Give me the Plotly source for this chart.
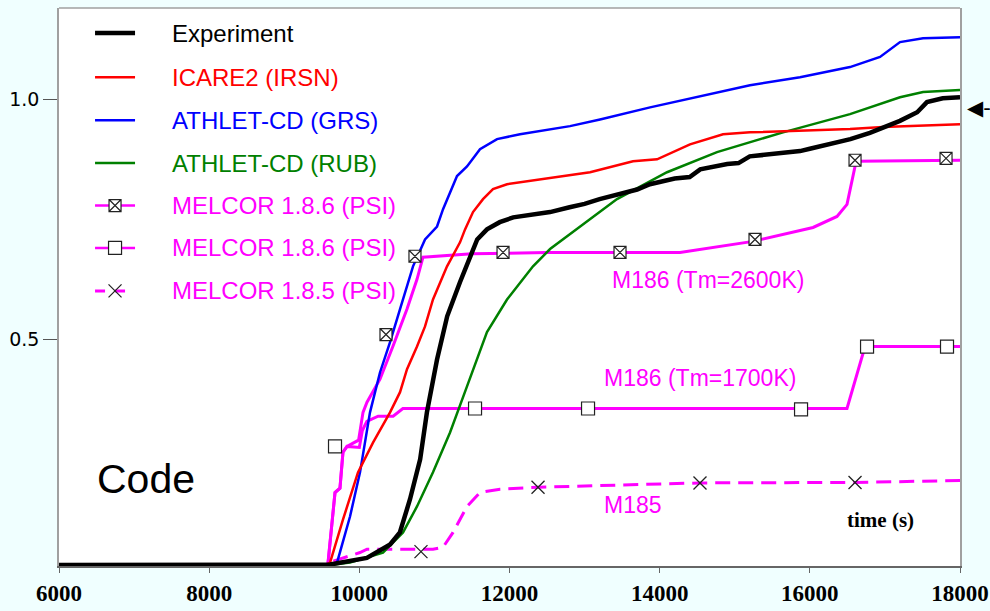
import plotly.graph_objects as go

# ---------------- data ----------------
exp_t = [6000, 9500, 9610, 10100, 10410, 10540, 10675, 10810, 10900, 11035, 11170, 11340, 11570, 11700,
         11870, 12050, 12310, 12540, 12800, 13000, 13200, 13500, 13700, 13870, 14200, 14400, 14540, 14900,
         15050, 15200, 15500, 15870, 16000, 16200, 16540, 16800, 16980, 17200, 17430, 17560, 17770, 18000]
exp_v = [0.03, 0.03, 0.031, 0.045, 0.073, 0.098, 0.167, 0.25, 0.348, 0.458, 0.548, 0.619, 0.708, 0.729,
         0.744, 0.754, 0.760, 0.765, 0.775, 0.782, 0.792, 0.805, 0.812, 0.823, 0.835, 0.838, 0.854, 0.865,
         0.867, 0.881, 0.885, 0.892, 0.897, 0.905, 0.917, 0.930, 0.942, 0.955, 0.973, 0.994, 1.002, 1.004]

icare_t = [6000, 9550, 9610, 9783, 9982, 10182, 10409, 10542, 10635, 10768, 10875, 10981, 11168, 11341,
           11408, 11514, 11647, 11780, 11967, 12400, 12806, 13073, 13645, 13965, 14404, 14844, 15203,
           16535, 16975, 18000]
icare_v = [0.03, 0.03, 0.035, 0.125, 0.223, 0.285, 0.348, 0.39, 0.438, 0.485, 0.527, 0.583, 0.652, 0.702,
           0.729, 0.765, 0.792, 0.813, 0.823, 0.833, 0.842, 0.848, 0.871, 0.875, 0.906, 0.927, 0.931,
           0.938, 0.942, 0.948]

grs_t = [6000, 9600, 9703, 9876, 10009, 10142, 10275, 10409, 10542, 10715, 10875, 11035, 11115, 11301,
         11434, 11607, 11834, 12140, 12806, 13206, 13872, 14537, 15203, 15869, 16535, 16935, 17201, 17508, 18000]
grs_v = [0.03, 0.03, 0.035, 0.131, 0.223, 0.348, 0.431, 0.494, 0.563, 0.652, 0.708, 0.735, 0.771, 0.840,
         0.860, 0.896, 0.917, 0.927, 0.944, 0.958, 0.983, 1.006, 1.029, 1.046, 1.067, 1.088, 1.119, 1.127, 1.129]

rub_t = [6000, 9600, 9876, 10315, 10582, 10768, 10981, 11208, 11434, 11700, 11967, 12313, 12540, 13432,
         14098, 14764, 15643, 16535, 17201, 17508, 18000]
rub_v = [0.03, 0.03, 0.035, 0.056, 0.098, 0.152, 0.223, 0.306, 0.402, 0.515, 0.583, 0.652, 0.688, 0.792,
         0.848, 0.890, 0.931, 0.969, 1.004, 1.015, 1.019]

m2600_t = [6000, 9580, 9676, 9742, 9782, 9836, 9990, 10049, 10102, 10275, 10449, 10635, 10768, 10848,
           11500, 12500, 14271, 15243, 16043, 16362, 16495, 16602, 16629, 18000]
m2600_v = [0.03, 0.03, 0.181, 0.19, 0.265, 0.277, 0.29, 0.348, 0.369, 0.417, 0.486, 0.563, 0.625, 0.671,
           0.678, 0.681, 0.681, 0.704, 0.733, 0.756, 0.781, 0.860, 0.871, 0.873]
m2600_mk_t = [10355, 10741, 11914, 13472, 15270, 16602, 17814]
m2600_mk_v = [0.510, 0.673, 0.681, 0.681, 0.708, 0.873, 0.877]

m1700_t = [6000, 9580, 9676, 9742, 9782, 9836, 10000, 10040, 10100, 10250, 10450, 10580, 16495, 16735, 18000]
m1700_v = [0.03, 0.03, 0.181, 0.19, 0.265, 0.277, 0.275, 0.31, 0.329, 0.340, 0.340, 0.356, 0.356, 0.485, 0.485]
m1700_mk_t = [9676, 11541, 13046, 15883, 16762, 17827]
m1700_mk_v = [0.277, 0.356, 0.356, 0.354, 0.485, 0.485]

m185_t = [6000, 9600, 9649, 10009, 10102, 10981, 11114, 11248, 11434, 11607, 11874, 12380, 14537, 16602, 18000]
m185_v = [0.03, 0.03, 0.038, 0.056, 0.063, 0.063, 0.067, 0.098, 0.152, 0.181, 0.188, 0.192, 0.201, 0.202, 0.206]
m185_mk_t = [10821, 12380, 14537, 16602]
m185_mk_v = [0.058, 0.192, 0.201, 0.202]

x_ticks = [6000, 8000, 10000, 12000, 14000, 16000, 18000]
y_ticks = [0.5, 1.0]

legend_names = ["Experiment", "ICARE2 (IRSN)", "ATHLET-CD (GRS)", "ATHLET-CD (RUB)",
                "MELCOR 1.8.6 (PSI)", "MELCOR 1.8.6 (PSI)", "MELCOR 1.8.5 (PSI)"]

# ---------------- styles ----------------
BLACK = "#000000"
RED = "#FF0000"
BLUE = "#0000FF"
GREEN = "#008000"
MAG = "#FF00FF"
SANS = "Liberation Sans, Arial, sans-serif"
SERIF = "Liberation Serif, Times New Roman, serif"
M185_DASH = "15px,8px"
PAPER = "#F0FFFF"

fig = go.Figure()

def line(x, y, color, width, dash="solid"):
    fig.add_trace(go.Scatter(x=x, y=y, mode="lines", line=dict(color=color, width=width, dash=dash),
                             showlegend=False, hoverinfo="skip"))

def markers(x, y, symbol, size, xaxis="x", yaxis="y"):
    fig.add_trace(go.Scatter(x=x, y=y, mode="markers", xaxis=xaxis, yaxis=yaxis,
                             marker=dict(symbol=symbol, size=size, color="white",
                                         line=dict(color="#222222", width=1.2)),
                             showlegend=False, hoverinfo="skip"))

def xmarkers(x, y, size, xaxis="x", yaxis="y"):
    fig.add_trace(go.Scatter(x=x, y=y, mode="markers", xaxis=xaxis, yaxis=yaxis,
                             marker=dict(symbol="x-thin", size=size, color="#222222",
                                         line=dict(color="#222222", width=1.3)),
                             showlegend=False, hoverinfo="skip"))

line(m185_t, m185_v, MAG, 3, M185_DASH)
line(m1700_t, m1700_v, MAG, 3)
line(m2600_t, m2600_v, MAG, 3)
line(rub_t, rub_v, GREEN, 2.5)
line(grs_t, grs_v, BLUE, 2.5)
line(icare_t, icare_v, RED, 2.5)
line(exp_t, exp_v, BLACK, 4.5)

markers(m2600_mk_t, m2600_mk_v, "square-x", 12)
markers(m1700_mk_t, m1700_mk_v, "square", 13)
xmarkers(m185_mk_t, m185_mk_v, 13)

# ---------------- custom legend (overlay axes in 0..1 paper-like units) ----------------
leg_colors = [BLACK, RED, BLUE, GREEN, MAG, MAG, MAG]
leg_widths = [4.5, 2.5, 2.5, 2.5, 2.5, 2.5, 3]
leg_dash = ["solid"] * 6 + ["10px,10px"]
row_y = [0.955, 0.876, 0.799, 0.722, 0.646, 0.570, 0.493]
x0, xm, x1, xt = 0.040, 0.0622, 0.0844, 0.1232
for i, name in enumerate(legend_names):
    fig.add_trace(go.Scatter(x=[x0, x1], y=[row_y[i]] * 2, mode="lines", xaxis="x2", yaxis="y2",
                             line=dict(color=leg_colors[i], width=leg_widths[i], dash=leg_dash[i]),
                             showlegend=False, hoverinfo="skip"))
    fig.add_annotation(x=xt, y=row_y[i], xref="paper", yref="paper", text=name, showarrow=False,
                       xanchor="left", yanchor="middle",
                       font=dict(family=SANS, size=24, color=leg_colors[i]))
markers([xm], [row_y[4]], "square-x", 12, "x2", "y2")
markers([xm], [row_y[5]], "square", 13, "x2", "y2")
xmarkers([xm], [row_y[6]], 13, "x2", "y2")

# ---------------- annotations ----------------
ann = [
    ("M186 (Tm=2600K)", 13339, 0.624),
    ("M186 (Tm=1700K)", 13232, 0.419),
    ("M185", 13232, 0.154),
]
for txt, x, y in ann:
    fig.add_annotation(x=x, y=y, text=txt, showarrow=False, xanchor="left", yanchor="middle",
                       font=dict(family=SANS, size=23, color=MAG))
fig.add_annotation(x=16469, y=0.123, text="<b>time (s)</b>", showarrow=False, xanchor="left",
                   yanchor="middle", font=dict(family=SERIF, size=21, color="black"))
fig.add_annotation(x=6480, y=0.21, text="Code", showarrow=False, xanchor="left", yanchor="middle",
                   font=dict(family=SANS, size=41, color="black"))
fig.add_annotation(x=1.005, y=0.821, xref="paper", yref="paper", text="◀-", showarrow=False,
                   xanchor="left", yanchor="middle", font=dict(family="DejaVu Sans", size=21, color="black"))

# top border
fig.add_shape(type="line", xref="paper", yref="paper", x0=0, x1=1, y0=1, y1=1,
              line=dict(color="#A0A0A0", width=1.5))

fig.update_layout(
    width=990, height=611,
    margin=dict(l=59, r=30, t=8, b=45),
    paper_bgcolor=PAPER,
    plot_bgcolor="white",
    showlegend=False,
    xaxis=dict(range=[6000, 18000], tickvals=x_ticks, ticktext=["<b>%d</b>" % v for v in x_ticks],
               automargin=False,
               showgrid=False, zeroline=False, showline=True, linecolor="#666666", linewidth=2,
               ticks="outside", ticklen=5, tickcolor="#666666", tickwidth=1,
               tickfont=dict(family=SERIF, size=23, color="black", weight="bold")),
    yaxis=dict(range=[0.028, 1.19], tickvals=y_ticks, ticktext=["0.5", "1.0"], automargin=False,
               showgrid=False, zeroline=False, showline=True, mirror=True, linecolor="#A0A0A0",
               linewidth=1.5, ticks="outside", ticklen=14, tickcolor="#555555", tickwidth=1,
               tickfont=dict(family="DejaVu Sans", size=19, color="black")),
    xaxis2=dict(range=[0, 1], overlaying="x", visible=False),
    yaxis2=dict(range=[0, 1], overlaying="y", visible=False),
)

fig.write_html("out.html", config={"displayModeBar": False},
               post_script="document.body.style.margin='0';document.body.style.background='%s';" % PAPER)
